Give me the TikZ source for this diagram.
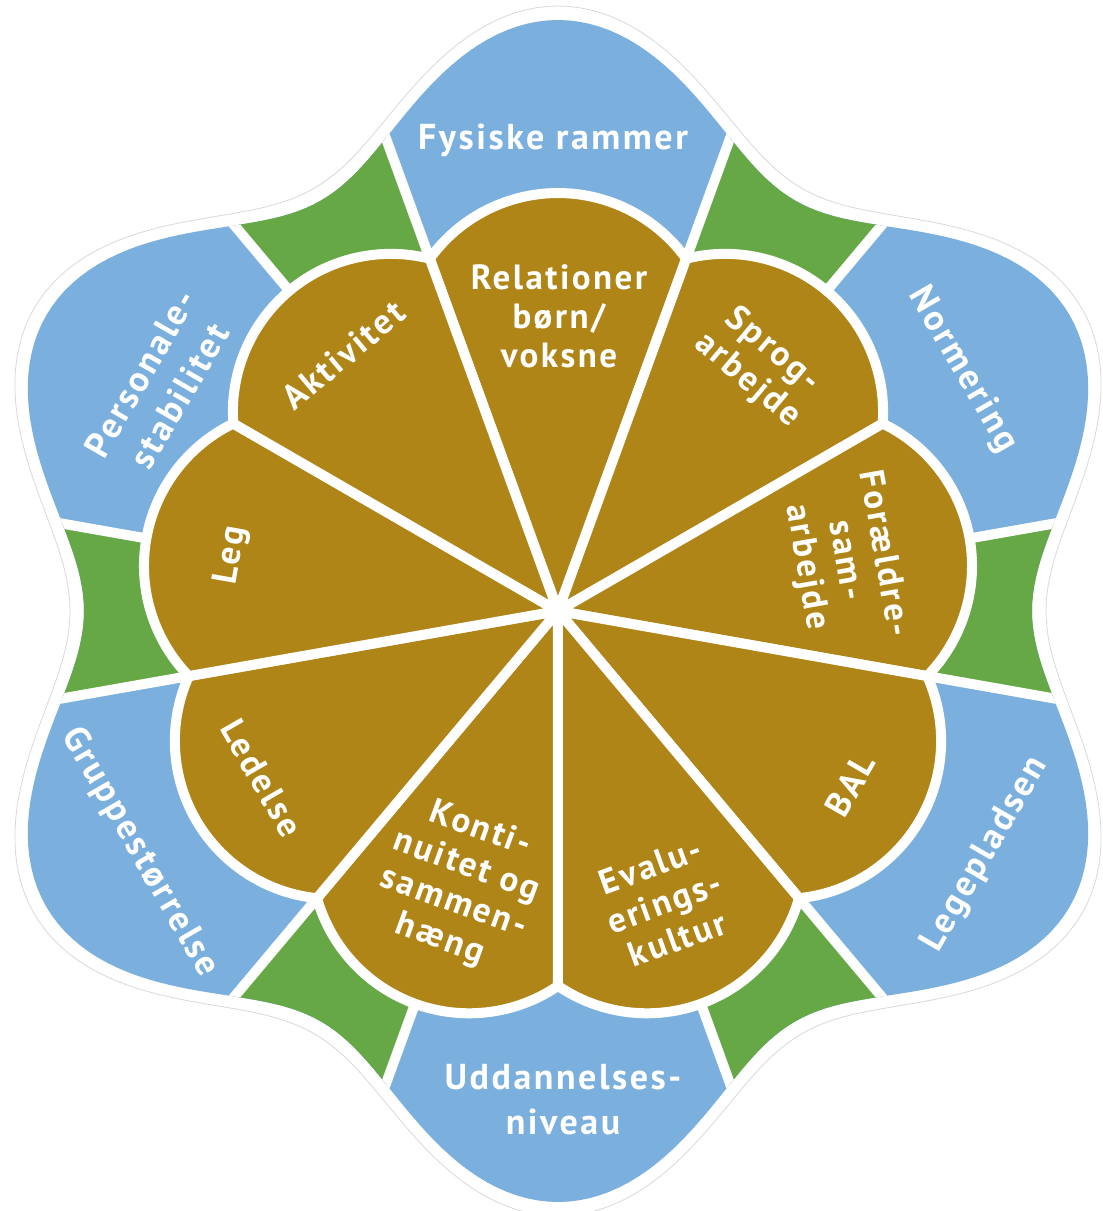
\documentclass[tikz,border=0pt]{standalone}
\usepackage{fontspec}
\setmainfont{PT Sans}
\newfontfamily\petalfont{PT Sans}[LetterSpace=7]
\usepackage{xcolor}
\definecolor{bluepetal}{HTML}{7AAFDE}
\definecolor{greenwedge}{HTML}{66A846}
\definecolor{brownpetal}{HTML}{B08518}
\tikzstyle{outerlabel}=[
  text=white, font=\petalfont\fontsize{36}{45}\selectfont\bfseries, align=center, inner sep=0pt
]
\tikzstyle{innerlabel}=[
  text=white, font=\petalfont\fontsize{35}{39}\selectfont\bfseries, align=center, inner sep=0pt
]

\begin{document}
\begin{tikzpicture}[x=1pt, y=1pt,
    petal/.style={fill=brownpetal, draw=white, line width=10pt, line join=round},
    divider/.style={draw=white, line width=10pt},
    ]
    \useasboundingbox (-558,-600) rectangle (545,611);
    %Outline
    \draw[gray!30, line width=0.8pt, fill=white] plot[variable=\ang, domain=0:360, samples=361] (\ang:{546.5-58.5*cos(6*\ang)}) -- cycle;
    %Blue and green ring
    \begin{scope}
      \clip plot[variable=\ang, domain=0:360, samples=361] (\ang:{532.5-58.5*cos(6*\ang)}) -- cycle;
      \fill[bluepetal] (-600,-620) rectangle (600,620);
      \foreach \g in {0,60,...,300}
        \fill[greenwedge] (0,0) -- (\g-10:700) -- (\g+10:700) -- cycle;
      \foreach \g in {0,60,...,300} {
        \draw[divider] (\g-10:300) -- (\g-10:650);
        \draw[divider] (\g+10:300) -- (\g+10:650);
      }
    \end{scope}
    %Brown petals
    \foreach \t in {90,50,...,-230}
      \draw[petal] (0,0) -- (\t-20:374.9) arc[start angle=\t-54.25, end angle=\t+54.25, radius=158] -- cycle;

    %Outer labels
    \node[outerlabel, anchor=base] (fysiske) at (-5,461) {Fysiske rammer};
    \node[outerlabel, rotate=-60] (normering) at (30.8:471) {Normering};
    \node[outerlabel, rotate=60] (legepladsen) at (-29.7:492) {Legepladsen};
    \node[outerlabel] (uddannelse) at (5,-489) {Uddannelses-\\niveau};
    \node[outerlabel, rotate=-60] (gruppe) at (210:483) {Gruppestørrelse};
    \node[outerlabel, rotate=60] (personale) at (150.4:458) {Personale-\\stabilitet};

    %Inner labels
    \node[innerlabel] (relationer) at (1,295) {Relationer\\børn/\\voksne};
    \node[innerlabel, rotate=40] (aktivitet) at (130:334) {Aktivitet};
    \node[innerlabel, rotate=-40] (sprog) at (50.6:318) {Sprog-\\arbejde};
    \node[innerlabel, rotate=-80] (foraeldre) at (10:291) {Forældre-\\sam-\\arbejde};
    \node[innerlabel, rotate=60] (bal) at (-30.8:340) {BAL};
    \node[innerlabel, rotate=20] (evaluering) at (-70:310) {Evalu-\\erings-\\kultur};
    \node[innerlabel, rotate=-20] (kontinuitet) at (250.3:291) {Konti-\\nuitet og\\sammen-\\hæng};
    \node[innerlabel, rotate=-60] (ledelse) at (209.4:340) {Ledelse};
    \node[innerlabel, rotate=80] (leg) at (170.3:331) {Leg};
\end{tikzpicture}
\end{document}
